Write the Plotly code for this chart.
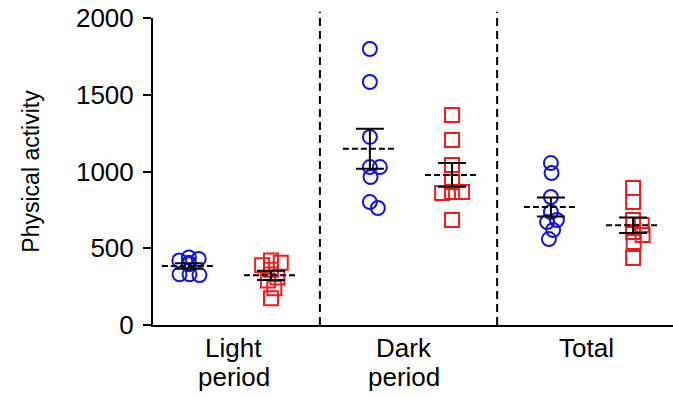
import numpy as np
import plotly.graph_objects as go

# ---- data ----
groups_line1 = ["Light", "Dark", "Total"]
groups_line2 = ["period", "period", ""]
blue_light = [440, 430, 420, 405, 395, 330, 330, 325]
red_light = [420, 405, 390, 360, 310, 290, 240, 175]
blue_dark = [1798, 1583, 1225, 1029, 1029, 964, 801, 762]
red_dark = [1368, 1205, 1042, 932, 866, 866, 860, 684]
blue_total = [1055, 990, 834, 736, 684, 671, 619, 560]
red_total = [893, 801, 684, 651, 606, 586, 541, 436]
yticks = [0, 500, 1000, 1500, 2000]

blue_series = [blue_light, blue_dark, blue_total]
red_series = [red_light, red_dark, red_total]

# ---- layout constants ----
W, H = 673, 399
ML, MR, MT, MB = 153, 0, 18, 74
XR = [-0.425, 2.4475]
YR = [0, 2000]
px_per_x = (W - ML - MR) / (XR[1] - XR[0])
px_per_y = (H - MT - MB) / (YR[1] - YR[0])
OFF = 0.227
BLUE = "#1414d2"
RED = "#ee1c1c"
LABEL_X = [0.02, 0.96, 1.97]


def swarm(vals, diam=10.0, maxw=16.0):
    """simple beeswarm offsets in x data units"""
    order = np.argsort(vals)[::-1]
    placed = []
    offs = np.zeros(len(vals))
    for i in order:
        y = vals[i] * px_per_y
        cands = [0.0]
        for (px, py) in placed:
            dy = y - py
            if abs(dy) < diam:
                dx = np.sqrt(diam ** 2 - dy ** 2)
                cands += [px + dx, px - dx]
        cands = sorted(cands, key=abs)
        chosen = None
        for c in cands:
            if abs(c) > maxw:
                continue
            if all((c - px) ** 2 + (y - py) ** 2 >= diam ** 2 - 1e-6 for px, py in placed):
                chosen = c
                break
        if chosen is None:
            chosen = min(cands, key=abs)
            chosen = max(-maxw, min(maxw, chosen))
        placed.append((chosen, y))
        offs[i] = chosen / px_per_x
    return offs


fig = go.Figure()

for gi in range(3):
    for vals, sign, color, sym in [(blue_series[gi], -1, BLUE, "circle-open"),
                                   (red_series[gi], 1, RED, "square-open")]:
        v = np.array(vals, dtype=float)
        cx = gi + sign * OFF
        xs = cx + swarm(v)
        fig.add_trace(go.Scatter(
            x=xs, y=v, mode="markers",
            marker=dict(symbol=sym, size=14, color=color, line=dict(width=2, color=color)),
            showlegend=False, hoverinfo="y"))
        m = v.mean()
        sem = v.std(ddof=1) / np.sqrt(len(v))
        hw = 27 / px_per_x
        fig.add_trace(go.Scatter(
            x=[cx - hw, cx + hw], y=[m, m], mode="lines",
            line=dict(color="black", width=2, dash="6px,3px"),
            showlegend=False, hoverinfo="skip"))
        fig.add_trace(go.Scatter(
            x=[cx], y=[m], mode="markers",
            marker=dict(size=1, color="rgba(0,0,0,0)"),
            error_y=dict(type="data", array=[sem], visible=True, color="black",
                         thickness=2, width=14),
            showlegend=False, hoverinfo="skip"))

for sx in [0.497, 1.476]:
    fig.add_shape(type="line", xref="x", yref="paper", x0=sx, x1=sx, y0=0, y1=1.02,
                  line=dict(color="black", width=2, dash="8px,5px"))

for gx, l1, l2 in zip(LABEL_X, groups_line1, groups_line2):
    fig.add_annotation(x=gx, y=0, xref="x", yref="paper", text=l1, showarrow=False,
                       yanchor="top", yshift=-6, font=dict(size=26))
    if l2:
        fig.add_annotation(x=gx, y=0, xref="x", yref="paper", text=l2, showarrow=False,
                           yanchor="top", yshift=-35, font=dict(size=26))

fig.update_layout(
    width=W, height=H,
    margin=dict(l=ML, r=MR, t=MT, b=MB, autoexpand=False),
    plot_bgcolor="white", paper_bgcolor="white",
    font=dict(family="Liberation Sans, Arial, sans-serif", color="black", size=26),
)
fig.update_xaxes(
    range=XR, showticklabels=False, ticks="", showgrid=False, zeroline=False,
    showline=True, linecolor="black", linewidth=2, automargin=False,
)
fig.update_yaxes(
    range=YR, tickmode="array", tickvals=yticks, ticks="outside", ticklen=8,
    tickwidth=2, tickcolor="black", showgrid=False, zeroline=False, showline=True,
    linecolor="black", linewidth=2, tickfont=dict(size=26), ticklabelstandoff=4,
    automargin=False,
    title=dict(text="Physical activity",
               font=dict(family="Liberation Sans Narrow, Arial Narrow, Liberation Sans", size=23),
               standoff=30),
)

fig.write_html("out.html", config={"displayModeBar": False},
               post_script="document.body.style.margin='0px';document.body.style.overflow='hidden';")
